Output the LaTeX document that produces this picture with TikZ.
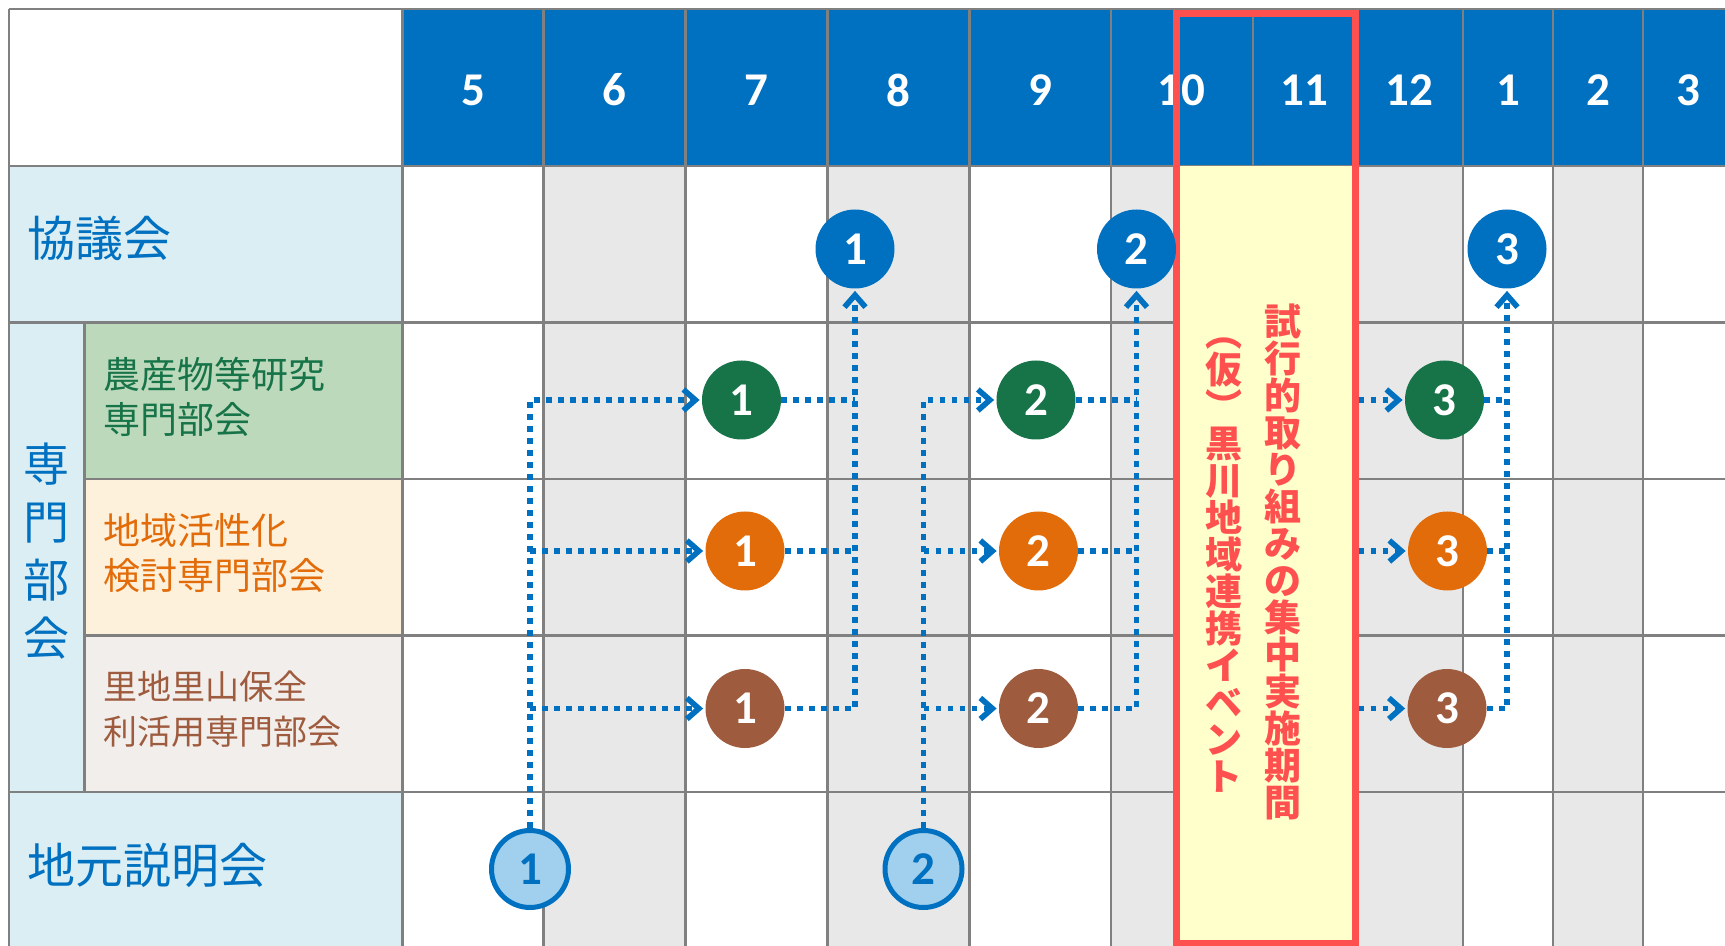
\documentclass[tikz,border=0pt]{standalone}
\usepackage{fontspec}
\usetikzlibrary{arrows.meta}
\newfontfamily\jp{Noto Sans CJK JP}
\newfontfamily\numfont{Carlito}
\definecolor{hdrblue}{HTML}{0070C0}
\definecolor{gridgray}{HTML}{808080}
\definecolor{colgray}{HTML}{E8E8E8}
\definecolor{lblblue}{HTML}{DAEEF3}
\definecolor{lblgreen}{HTML}{BCD9BB}
\definecolor{lblorange}{HTML}{FDF1DC}
\definecolor{lblbrown}{HTML}{F2EEEB}
\definecolor{cgreen}{HTML}{177348}
\definecolor{corange}{HTML}{E36C0A}
\definecolor{cbrown}{HTML}{9E5B3E}
\definecolor{clight}{HTML}{A0D0EE}
\definecolor{evred}{HTML}{FF5050}
\definecolor{evyellow}{HTML}{FFFFCC}
\begin{document}
\begin{tikzpicture}[x=0.5pt,y=-0.5pt,
  grid/.style={draw=gridgray,line width=1.3pt},
  mon/.style={text=white,inner sep=0pt,font=\numfont\bfseries\fontsize{23.5}{23.5}\selectfont},
  circ/.style={circle,minimum size=39.5pt,inner sep=0pt,text=white,font=\numfont\bfseries\fontsize{23.5}{23.5}\selectfont},
  kcirc/.style={circ,fill=hdrblue},
  gcirc/.style={circ,fill=cgreen},
  ocirc/.style={circ,fill=corange},
  bcirc/.style={circ,fill=cbrown},
  jcirc/.style={circ,fill=clight,draw=hdrblue,line width=2.5pt,minimum size=38.5pt,text=hdrblue},
  conn/.style={draw=hdrblue,line width=2.8pt,dash pattern=on 2.8pt off 3.2pt},
  arr/.style={-{Straight Barb[length=6pt,width=10.5pt]},shorten >=1pt},
  biglbl/.style={inner sep=0pt,text=hdrblue,font=\jp\fontsize{24}{24}\selectfont},
  sublbl/.style={inner sep=0pt,anchor=west,align=left},
  vtext/.style={inner sep=0pt,align=center,text=evred,font={\jp\bfseries\fontsize{18.5}{18.5}\selectfont\lineskiplimit=-100pt}}
]
\useasboundingbox (0,0) rectangle (1725,946);
\clip (0,0) rectangle (1725,946);
\fill[white] (0,0) rectangle (1725,946);
% header
\fill[hdrblue] (402.6,9) rectangle (1730,166);
% label cells
\fill[lblblue] (8.8,166) rectangle (402.6,322.5);
\fill[lblblue] (8.8,322.5) rectangle (84.7,792);
\fill[lblgreen] (84.7,322.5) rectangle (402.6,479);
\fill[lblorange] (84.7,479) rectangle (402.6,635.5);
\fill[lblbrown] (84.7,635.5) rectangle (402.6,792);
\fill[lblblue] (8.8,792) rectangle (402.6,950);
% gray columns
\foreach \a/\b in {543.4/685.4,827.3/969.2,1111.1/1253,1355/1463,1553/1643}
  \fill[colgray] (\a,166) rectangle (\b,950);
% grid
\draw[grid] (8.8,9) -- (1730,9);
\draw[grid] (8.8,166) -- (1730,166);
\draw[grid] (8.8,322.5) -- (1730,322.5);
\draw[grid] (84.7,479) -- (1730,479);
\draw[grid] (84.7,635.5) -- (1730,635.5);
\draw[grid] (8.8,792) -- (1730,792);
\draw[grid] (8.8,9) -- (8.8,950);
\draw[grid] (84.7,322.5) -- (84.7,792);
\foreach \x in {402.6,543.4,685.4,827.3,969.2,1111.1,1253,1355,1463,1553,1643}
  \draw[grid] (\x,9) -- (\x,950);
% event area fill
\fill[evyellow] (1176.5,166) rectangle (1355,943);
% month labels
\foreach \x/\m in {473/5,614.4/6,756.4/7,898.3/8,1040.2/9,1181.5/10,1304/11,1409/12,1508/1,1598/2,1688/3}
  \node[mon] (m\m) at (\x,90) {\m};
% event box
\node[draw=evred,line width=3.5pt,minimum width=89.25pt,minimum height=464.5pt,inner sep=0pt] (ev) at (1265.75,478.5) {};
\node[vtext] (evr) at (1283,562) {試\\行\\的\\取\\り\\組\\み\\の\\集\\中\\実\\施\\期\\間};
\node[vtext] (evl) at (1224,565) {︵\\仮\\︶\\黒\\川\\地\\域\\連\\携\\イ\\ベ\\ン\\ト};
% labels
\node[biglbl,anchor=west] (lk) at (27,238) {協議会};
\node[biglbl,align=center,font=\jp\fontsize{23}{29}\selectfont] (ls) at (47,551) {専\\門\\部\\会};
\node[biglbl,anchor=west] (lj) at (27,865) {地元説明会};
\node[sublbl,text=cgreen,font=\jp\fontsize{18.5}{22.5}\selectfont] (lg) at (103,396.5) {農産物等研究\\専門部会};
\node[sublbl,text=corange,font=\jp\fontsize{18.5}{22.5}\selectfont] (lo) at (103,553.5) {地域活性化\\検討専門部会};
\node[sublbl,text=cbrown,font=\jp\fontsize{17}{22.5}\selectfont] (lb) at (103,709.5) {里地里山保全\\利活用専門部会};
% circles
\node[kcirc] (k1) at (855,249) {1};
\node[kcirc] (k2) at (1136.5,249) {2};
\node[kcirc] (k3) at (1507,249) {3};
\node[gcirc] (g1) at (741.5,400) {1};
\node[gcirc] (g2) at (1036,400) {2};
\node[gcirc] (g3) at (1444.5,400) {3};
\node[ocirc] (o1) at (745,551) {1};
\node[ocirc] (o2) at (1038.5,551) {2};
\node[ocirc] (o3) at (1447.5,551) {3};
\node[bcirc] (b1) at (745,708.5) {1};
\node[bcirc] (b2) at (1038.5,708.5) {2};
\node[bcirc] (b3) at (1447,708.5) {3};
\node[jcirc] (j1) at (530,869) {1};
\node[jcirc] (j2) at (923.5,869) {2};
% connectors: round 1
\draw[conn,arr] (j1.north) |- (g1.west);
\draw[conn,arr] (j1.north |- o1.west) -- (o1.west);
\draw[conn,arr] (j1.north |- b1.west) -- (b1.west);
\draw[conn] (g1.east) -- (g1.east -| k1.south);
\draw[conn] (o1.east) -- (o1.east -| k1.south);
\draw[conn,arr] (b1.east) -| (k1.south);
% round 2
\draw[conn,arr] (j2.north) |- (g2.west);
\draw[conn,arr] (j2.north |- o2.west) -- (o2.west);
\draw[conn,arr] (j2.north |- b2.west) -- (b2.west);
\draw[conn] (g2.east) -- (g2.east -| k2.south);
\draw[conn] (o2.east) -- (o2.east -| k2.south);
\draw[conn,arr] (b2.east) -| (k2.south);
% round 3
\draw[conn,arr] (ev.east |- g3.west) -- (g3.west);
\draw[conn,arr] (ev.east |- o3.west) -- (o3.west);
\draw[conn,arr] (ev.east |- b3.west) -- (b3.west);
\draw[conn] (g3.east) -- (g3.east -| k3.south);
\draw[conn] (o3.east) -- (o3.east -| k3.south);
\draw[conn,arr] (b3.east) -| (k3.south);
\end{tikzpicture}
\end{document}
